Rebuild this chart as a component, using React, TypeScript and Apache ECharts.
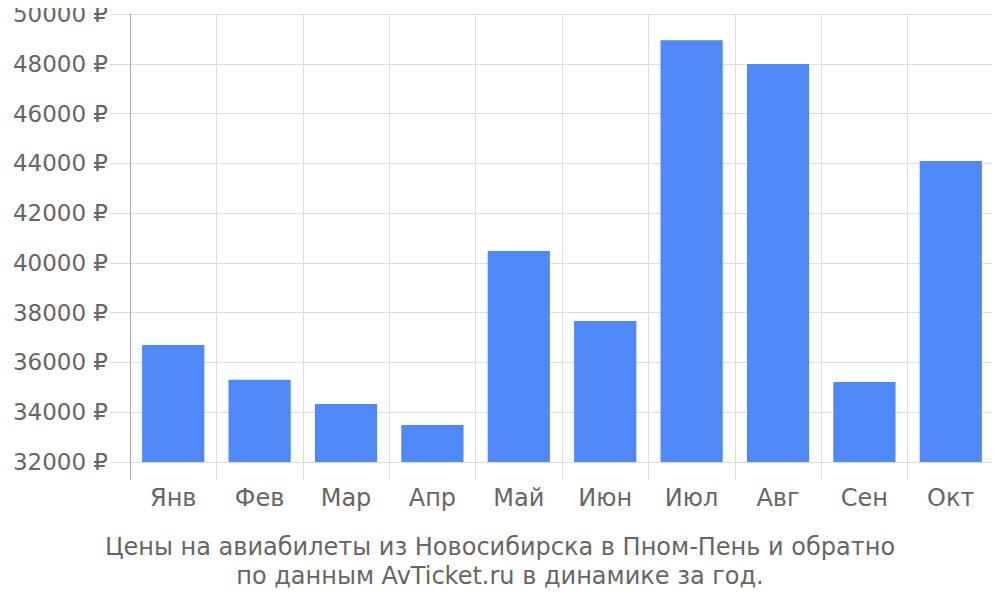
import React, { useEffect, useRef } from 'react';
import * as echarts from 'echarts';

const months = ['Янв', 'Фев', 'Мар', 'Апр', 'Май', 'Июн', 'Июл', 'Авг', 'Сен', 'Окт'];
const prices = [36700, 35300, 34330, 33490, 40480, 37670, 48950, 47990, 35210, 44090];
const titleLines = [
  'Цены на авиабилеты из Новосибирска в Пном-Пень и обратно',
  'по данным AvTicket.ru в динамике за год.',
];

const FONT = 'DejaVu Sans';
const TEXT = '#666666';
const GRID = '#dddddd';

const App: React.FC = () => {
  const chartRef = useRef<HTMLDivElement>(null);

  useEffect(() => {
    if (!chartRef.current) return;
    const chart = echarts.init(chartRef.current, undefined, { renderer: 'svg' });

    const option: echarts.EChartsOption = {
      animation: false,
      grid: { left: 130, right: 6, top: 14, bottom: 138 },
      graphic: [
        {
          type: 'text',
          x: 500,
          y: 532,
          style: {
            text: titleLines.join('\n'),
            fontFamily: FONT,
            fontSize: 24,
            lineHeight: 29,
            fill: TEXT,
            align: 'center',
            verticalAlign: 'top',
          },
        },
      ],
      xAxis: [
        {
          type: 'category',
          data: months,
          axisLine: { show: true, lineStyle: { color: GRID } },
          axisTick: { show: true, length: 18, lineStyle: { color: GRID } },
          splitLine: { show: true, lineStyle: { color: GRID } },
          axisLabel: { fontFamily: FONT, fontSize: 24, color: TEXT, margin: 24 },
        },
        {
          // darker first tick continuing the y axis line below the plot
          type: 'category',
          data: months,
          position: 'bottom',
          axisLine: { show: false },
          axisTick: { show: true, length: 18, interval: (i: number) => i === 0, lineStyle: { color: '#aaaaaa' } },
          splitLine: { show: false },
          axisLabel: { show: false },
        },
      ],
      yAxis: {
        type: 'value',
        min: 32000,
        max: 50000,
        interval: 2000,
        axisLine: { show: true, lineStyle: { color: '#aaaaaa' } },
        axisTick: { show: true, length: 20, lineStyle: { color: GRID } },
        splitLine: { show: true, lineStyle: { color: GRID } },
        axisLabel: {
          fontFamily: FONT,
          fontSize: 23,
          color: TEXT,
          margin: 22,
          formatter: (v: number) => `${v} ₽`,
        },
      },
      series: [
        {
          type: 'bar',
          data: prices,
          barCategoryGap: '28%',
          itemStyle: { color: '#4e88f9' },
          z: 3,
        },
      ],
    };

    chart.setOption(option);
    return () => chart.dispose();
  }, []);

  return <div ref={chartRef} style={{ width: 1000, height: 600, margin: -8 }} />;
};

export default App;
